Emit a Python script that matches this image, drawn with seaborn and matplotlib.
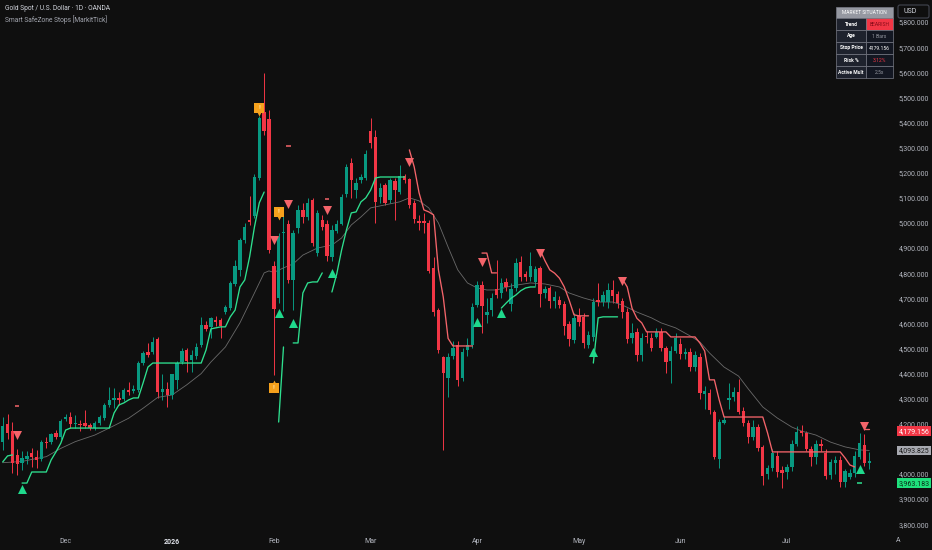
import numpy as np
import matplotlib
matplotlib.use("Agg")
import matplotlib.pyplot as plt
import seaborn as sns
from matplotlib.patches import Rectangle, FancyBboxPatch
from matplotlib.transforms import blended_transform_factory

# ---------------- data ----------------
opens = [4127, 4199, 4171, 4076, 4044, 4060, 4084, 4068, 4060, 4127,
         4127, 4163, 4147, 4219, 4227, 4199, 4197, 4203, 4195, 4183,
         4203, 4223, 4275, 4295, 4303, 4299, 4335, 4331, 4335, 4442,
         4486, 4486, 4538, 4327, 4339, 4315, 4375, 4446, 4494, 4454,
         4470, 4514, 4594, 4586, 4614, 4614, 4645, 4661, 4757, 4813,
         4932, 5012, 5028, 5179, 5442, 5414, 4829, 4701, 4960, 4996,
         4773, 4980, 5052, 5024, 5092, 4880, 5012, 4996, 4864, 4968,
         4996, 5115, 5239, 5131, 5171, 5179, 5366, 5342, 5103, 5151,
         5092, 5167, 5123, 5187, 5175, 5080, 5008, 5008, 5000, 4821,
         4653, 4466, 4382, 4470, 4514, 4382, 4494, 4514, 4673, 4753,
         4633, 4653, 4737, 4721, 4765, 4677, 4741, 4845, 4797, 4785,
         4765, 4821, 4721, 4741, 4689, 4693, 4677, 4598, 4534, 4630,
         4626, 4514, 4546, 4693, 4685, 4685, 4733, 4717, 4689, 4645,
         4542, 4566, 4474, 4550, 4542, 4546, 4566, 4502, 4450, 4490,
         4518, 4478, 4486, 4426, 4466, 4319, 4323, 4247, 4060, 4203,
         4295, 4307, 4327, 4251, 4203, 4147, 4187, 4108, 4000, 4024,
         4072, 4016, 4008, 4028, 4119, 4171, 4163, 4100, 4068, 4119,
         4084, 3996, 4044, 4056, 3968, 3988, 4004, 4068, 4115, 4044]
highs = [4227, 4239, 4207, 4100, 4092, 4090, 4104, 4096, 4135, 4147,
         4165, 4175, 4219, 4240, 4247, 4235, 4215, 4255, 4205, 4211,
         4235, 4283, 4347, 4343, 4327, 4343, 4367, 4355, 4450, 4490,
         4522, 4546, 4546, 4398, 4367, 4400, 4450, 4500, 4500, 4494,
         4520, 4626, 4610, 4626, 4630, 4622, 4673, 4769, 4853, 4940,
         5000, 5107, 5195, 5426, 5598, 5450, 4850, 4960, 5040, 5010,
         4970, 5070, 5080, 5100, 5100, 5050, 5030, 5010, 4990, 5010,
         5115, 5235, 5260, 5180, 5195, 5290, 5418, 5370, 5160, 5160,
         5180, 5180, 5230, 5195, 5180, 5090, 5030, 5040, 5010, 4865,
         4660, 4470, 4480, 4530, 4530, 4500, 4540, 4680, 4770, 4770,
         4700, 4720, 4853, 4780, 4780, 4760, 4860, 4869, 4810, 4884,
         4830, 4830, 4750, 4750, 4730, 4710, 4690, 4610, 4640, 4660,
         4640, 4570, 4700, 4761, 4730, 4760, 4773, 4730, 4700, 4660,
         4600, 4580, 4560, 4570, 4560, 4580, 4580, 4510, 4510, 4560,
         4540, 4500, 4500, 4490, 4480, 4350, 4340, 4255, 4220, 4230,
         4363, 4345, 4378, 4265, 4215, 4215, 4200, 4115, 4035, 4100,
         4090, 4030, 4040, 4135, 4191, 4195, 4170, 4110, 4135, 4140,
         4100, 4060, 4070, 4070, 4020, 4020, 4090, 4163, 4160, 4088]
lows = [4096, 4140, 4004, 3996, 4016, 4040, 4028, 4024, 4050, 4104,
        4120, 4140, 4140, 4210, 4183, 4183, 4171, 4183, 4175, 4175,
        4195, 4215, 4268, 4263, 4275, 4291, 4315, 4323, 4327, 4436,
        4466, 4478, 4303, 4295, 4267, 4300, 4340, 4440, 4406, 4406,
        4460, 4506, 4570, 4542, 4590, 4542, 4637, 4653, 4749, 4790,
        4920, 4990, 5020, 5171, 5350, 4880, 4394, 4680, 4650, 4760,
        4653, 4960, 5000, 5012, 4910, 4870, 4970, 4850, 4850, 4960,
        4990, 5105, 5100, 5100, 5160, 5170, 5300, 5000, 5080, 5070,
        5080, 5012, 5115, 5160, 5060, 5000, 4970, 4960, 4800, 4630,
        4480, 4096, 4307, 4460, 4350, 4370, 4470, 4500, 4665, 4562,
        4600, 4630, 4700, 4700, 4730, 4650, 4730, 4770, 4770, 4770,
        4750, 4665, 4700, 4660, 4660, 4660, 4554, 4510, 4520, 4590,
        4500, 4500, 4530, 4670, 4670, 4660, 4680, 4660, 4620, 4520,
        4520, 4450, 4450, 4520, 4490, 4540, 4490, 4402, 4363, 4480,
        4460, 4460, 4410, 4410, 4300, 4260, 4240, 4060, 4024, 4200,
        4260, 4290, 4240, 4190, 4123, 4135, 4090, 3956, 3980, 4010,
        3990, 3944, 3980, 4010, 4110, 4150, 4090, 4030, 4040, 4090,
        3980, 3980, 4000, 3950, 3950, 3980, 3990, 4060, 4030, 4020]
closes = [4191, 4163, 4044, 4040, 4064, 4072, 4068, 4056, 4127, 4123,
          4159, 4147, 4211, 4227, 4199, 4201, 4195, 4191, 4183, 4203,
          4227, 4275, 4295, 4303, 4295, 4335, 4327, 4339, 4442, 4482,
          4474, 4526, 4327, 4339, 4315, 4398, 4442, 4490, 4450, 4474,
          4506, 4594, 4578, 4622, 4606, 4590, 4665, 4761, 4829, 4932,
          4984, 5004, 5183, 5418, 5366, 4892, 4657, 4944, 4964, 4773,
          4960, 5052, 5024, 5080, 4920, 5040, 4984, 4868, 4972, 4996,
          5103, 5223, 5171, 5159, 5183, 5275, 5319, 5084, 5139, 5080,
          5171, 5131, 5187, 5171, 5072, 5016, 5000, 5000, 4809, 4645,
          4494, 4402, 4466, 4502, 4375, 4486, 4514, 4665, 4753, 4669,
          4645, 4701, 4713, 4761, 4745, 4737, 4841, 4785, 4785, 4829,
          4817, 4717, 4737, 4689, 4705, 4673, 4590, 4538, 4622, 4606,
          4522, 4554, 4685, 4685, 4713, 4733, 4709, 4681, 4645, 4538,
          4562, 4474, 4542, 4546, 4502, 4566, 4502, 4446, 4490, 4542,
          4478, 4486, 4426, 4474, 4323, 4331, 4255, 4068, 4207, 4215,
          4303, 4327, 4247, 4203, 4147, 4187, 4104, 3992, 4024, 4084,
          4008, 4004, 4028, 4119, 4167, 4163, 4100, 4068, 4119, 4112,
          3992, 4048, 4056, 3968, 4012, 4004, 4072, 4123, 4044, 4052]

# grey moving-average line, read at sample bars
ma_idx = [0, 4, 6, 9, 12, 15, 19, 22, 26, 29, 32, 35, 38, 41, 43, 46, 49, 52,
          54, 55, 56, 58, 60, 62, 65, 68, 70, 72, 74, 76, 79, 82, 84, 86, 88,
          90, 92, 94, 96, 98, 100, 102, 105, 109, 112, 115, 117, 120, 123, 126,
          128, 131, 134, 136, 139, 142, 144, 146, 149, 152, 154, 157, 160, 163,
          165, 168, 171, 174, 177, 179]
ma_val = [4045, 4050, 4058, 4069, 4102, 4129, 4155, 4183, 4222, 4262, 4305,
          4315, 4355, 4400, 4446, 4506, 4602, 4721, 4801, 4809, 4803, 4821,
          4837, 4872, 4900, 4912, 4940, 4992, 5024, 5060, 5072, 5084, 5100,
          5088, 5060, 5000, 4904, 4813, 4761, 4741, 4733, 4733, 4749, 4761,
          4757, 4745, 4721, 4701, 4685, 4685, 4673, 4645, 4622, 4602, 4582,
          4550, 4526, 4482, 4426, 4390, 4339, 4267, 4223, 4187, 4171, 4155,
          4127, 4108, 4096, 4093.825]

# long (bullish) stop segments: start bar + values per bar
long_starts = [0, 4, 57, 60, 68, 103, 122, 177]
long_vals = [
    [4048, 4072, 4076],
    [3964, 3964, 4008, 4008, 4008, 4008, 4056, 4088, 4123, 4175, 4183,
     4183, 4183, 4183, 4183, 4183, 4183, 4183, 4183,
     4243, 4275, 4283, 4295, 4303, 4303, 4363, 4426, 4442,
     4442, 4442, 4442, 4442, 4442, 4442, 4442, 4442, 4442, 4442,
     4494, 4578, 4582, 4586, 4586, 4626, 4653, 4745, 4773, 4865, 4984,
     5080, 5123],
    [4207, 4506],
    [4522, 4522, 4721, 4761, 4765, 4765, 4801],
    [4725, 4797, 4892, 4972, 5040, 5044, 5084, 5100, 5131, 5179,
     5183, 5183, 5183, 5183, 5183, 5183],
    [4661, 4681, 4700, 4713, 4730, 4741, 4745, 4745],
    [4442, 4622, 4626, 4626, 4626, 4626],
    [3963.183],
]
# short (bearish) stop segments
short_starts = [3, 59, 67, 84, 99, 111, 128, 178]
short_vals = [
    [4271],
    [5307],
    [5096],
    [5291, 5223, 5120, 5052, 5044, 5032, 4813, 4705, 4540, 4510, 4510,
     4510, 4510, 4510],
    [4880, 4880, 4801, 4801],
    [4892, 4850, 4813, 4800, 4780, 4745, 4693, 4634, 4630, 4630, 4630],
    [4777, 4745, 4660, 4620, 4602, 4566, 4566, 4566, 4566, 4566,
     4546, 4546, 4546, 4546, 4546, 4546, 4522, 4490, 4375, 4375, 4295,
     4227, 4227, 4227, 4227, 4227, 4227, 4227, 4227, 4227, 4163, 4088,
     4088, 4088, 4088, 4088, 4088, 4088, 4088, 4088, 4088, 4088, 4088,
     4088, 4088, 4088, 4064, 4036, 4028],
    [4179.156, 4179.156],
]

bear_idx = [3, 56, 59, 67, 84, 99, 111, 128, 178]
bear_val = [4155, 4932, 5076, 5052, 5243, 4845, 4880, 4769, 4191]
bull_idx = [4, 57, 60, 68, 98, 103, 122, 177]
bull_val = [3940, 4641, 4602, 4801, 4606, 4641, 4486, 4020]

warn_idx = [53, 56, 57]
warn_val = [5458, 4343, 5045]
warn_dir = ["down", "up", "down"]

tick_pos = [13, 35, 56, 76, 98, 119, 140, 162]
tick_labels = ["Dec", "2026", "Feb", "Mar", "Apr", "May", "Jun", "Jul"]
price_ticks = list(range(3800, 5900, 100))

table_keys = ["Trend", "Age", "Stop Price", "Risk %", "Active Mult"]
table_vals = ["BEARISH", "1 Bars", "4179.156", "3.12%", "2.5x"]

last_stop = 4179.156
last_ma = 4093.825
last_long = 3963.183

# ---------------- style ----------------
BG = "#0f0f0f"
GREEN = "#089981"
RED = "#f23645"
LGREEN = "#2ee08f"
LRED = "#f4646a"
TXT = "#b2b5be"

sns.set_theme(style="dark", rc={"axes.facecolor": BG, "figure.facecolor": BG})
plt.rcParams["font.family"] = ["Roboto", "DejaVu Sans"]

fig = plt.figure(figsize=(9.32, 5.5), dpi=100)
fig.patch.set_facecolor(BG)
ax = fig.add_axes([0, 18 / 550, 893 / 932, 532 / 550])
ax.set_facecolor(BG)
for s in ax.spines.values():
    s.set_visible(False)
ax.grid(False)

o = np.array(opens, float)
h = np.array(highs, float)
l = np.array(lows, float)
c = np.array(closes, float)
idx = np.arange(len(c))
col = np.where(c >= o, GREEN, RED)

ax.vlines(idx, l, h, colors=col, linewidth=0.7, zorder=2)
ax.bar(idx, np.maximum(np.abs(c - o), 3), bottom=np.minimum(o, c), width=0.7,
       color=col, linewidth=0, zorder=3)

sns.lineplot(x=ma_idx, y=ma_val, ax=ax, color="#6a6a6a", linewidth=0.6,
             zorder=2, legend=False)

def draw_segments(starts, vals, color):
    for s0, vs in zip(starts, vals):
        if len(vs) == 1:
            ax.hlines(vs[0], s0 - 0.45, s0 + 0.45, color=color, linewidth=1.1, zorder=4)
        else:
            ax.plot(np.arange(s0, s0 + len(vs)), vs, color=color, linewidth=0.95,
                    zorder=4, solid_joinstyle="round")

draw_segments(long_starts, long_vals, LGREEN)
draw_segments(short_starts, short_vals, LRED)

ax.scatter(bear_idx, bear_val, marker="v", s=42, color=LRED, linewidths=0, zorder=6)
ax.scatter(bull_idx, bull_val, marker="^", s=42, color="#1fd98c", linewidths=0, zorder=6)

for wi, wv, wd in zip(warn_idx, warn_val, warn_dir):
    ax.scatter([wi], [wv], marker="s", s=62, color="#f5a11c", linewidths=0, zorder=7)
    off = -24 if wd == "down" else 24
    ax.scatter([wi], [wv + off], marker="v" if wd == "down" else "^", s=8,
               color="#f5a11c", linewidths=0, zorder=7)
    ax.text(wi, wv, "!", ha="center", va="center", fontsize=4.5, color="#ffe1a8",
            fontweight="bold", zorder=8)

ax.set_xlim(-0.56, 183.9)
ax.set_ylim(3769, 5888)

ax.yaxis.tick_right()
ax.set_yticks(price_ticks)
ax.set_yticklabels([f"{v:,.3f}" for v in price_ticks])
ax.tick_params(axis="y", length=0, pad=4, labelsize=5, labelcolor=TXT)
ax.set_xticks(tick_pos)
ax.set_xticklabels(tick_labels)
ax.tick_params(axis="x", length=0, pad=4, labelsize=5, labelcolor=TXT)
for t in ax.get_xticklabels():
    if t.get_text() == "2026":
        t.set_color("#e0e3eb")
        t.set_fontweight("bold")
ax.set_xlabel("")
ax.set_ylabel("")
tr_x = blended_transform_factory(ax.transData, ax.transAxes)
ax.text(185, -9 / 532, "A", transform=tr_x, ha="center", va="center",
        fontsize=5, color=TXT, clip_on=False)

# price value labels on the right scale (red one nudged down like the reference)
tr_y = blended_transform_factory(ax.transAxes, ax.transData)
for val, ypos, fc, tc in [(last_stop, last_stop - 9, "#f23645", "#ffffff"),
                          (last_ma, last_ma, "#a7a9b0", "#1a1a1a"),
                          (last_long, last_long, "#1ee07c", "#0a2a16")]:
    ax.text(1.0 + 5.5 / 893, ypos, f"{val:,.3f}", transform=tr_y, ha="left",
            va="center", fontsize=5, color=tc, clip_on=False, zorder=20,
            bbox=dict(boxstyle="square,pad=0.2", fc=fc, ec="none"))

# ---------------- overlay (pixel coordinates) ----------------
ov = fig.add_axes([0, 0, 1, 1], zorder=10)
ov.set_xlim(0, 932)
ov.set_ylim(550, 0)
ov.axis("off")

ov.text(5, 8, "Gold Spot / U.S. Dollar · 1D · OANDA", fontsize=4.8,
        color="#d1d4dc", ha="left", va="center")
ov.text(5, 20, "Smart SafeZone Stops [MarkitTick]", fontsize=4.8,
        color="#a3a6af", ha="left", va="center")

# USD box
ov.add_patch(FancyBboxPatch((898, 5), 31, 13, boxstyle="round,pad=0,rounding_size=2",
                            fc=BG, ec="#434651", lw=0.8))
ov.text(903, 11.5, "USD", fontsize=5, color="#d1d4dc", ha="left", va="center")

# table
x0, xm, x1 = 836, 866, 893
ov.add_patch(Rectangle((x0, 7), x1 - x0, 11, fc="#9598a1", ec="#787b86", lw=0.5))
ov.text((x0 + x1) / 2, 12.5, "MARKET SITUATION", fontsize=3.5, color="#ffffff",
        ha="center", va="center")
val_colors = ["#8a0c1a", "#9598a1", "#ffffff", "#f23645", "#9598a1"]
for r, (k, v) in enumerate(zip(table_keys, table_vals)):
    y0 = 18 + r * 12
    ov.add_patch(Rectangle((x0, y0), xm - x0, 12, fc="#1e222d", ec="#787b86", lw=0.5))
    ov.add_patch(Rectangle((xm, y0), x1 - xm, 12,
                           fc="#f23645" if r == 0 else "#131722", ec="#787b86", lw=0.5))
    ov.text((x0 + xm) / 2, y0 + 6, k, fontsize=3.6, color="#ffffff",
            ha="center", va="center", fontweight="bold")
    ov.text((xm + x1) / 2, y0 + 6, v, fontsize=3.6, color=val_colors[r],
            ha="center", va="center")

fig.savefig("out.png", dpi=100, facecolor=BG)
